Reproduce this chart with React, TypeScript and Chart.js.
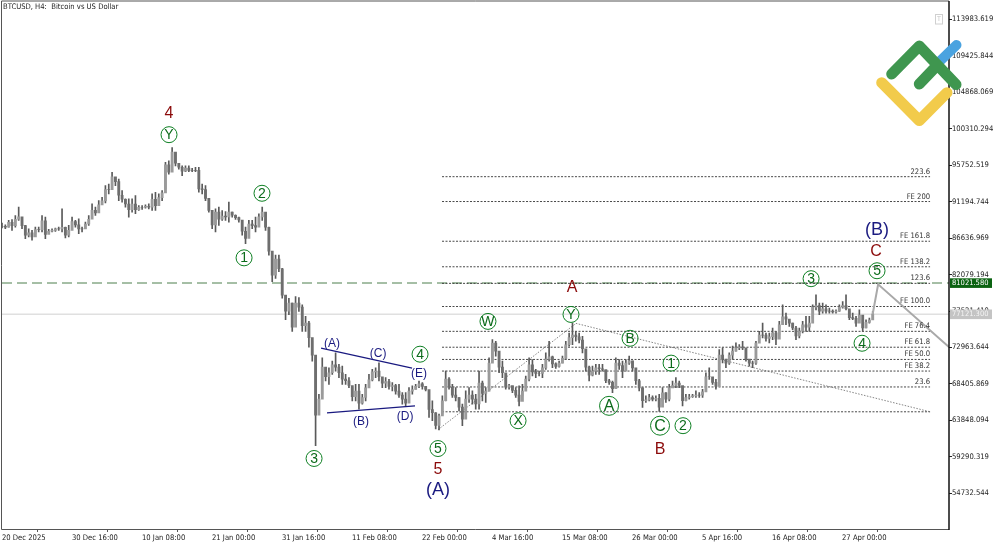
import { useEffect, useRef } from "react";
import { Chart, registerables } from "chart.js";

Chart.register(...registerables);

const BAR_STEP = 3.05;
const LAST_BAR = 865.8;

const highs = [
  88520,88310,88850,88970,89470,90510,88850,88230,87810,87610,
  88020,88020,89470,89260,87730,87810,87900,88020,90300,88020,
  88230,89260,88850,89060,88020,88640,89470,90920,90510,91330,
  91750,93200,93400,94850,94230,94020,92580,91540,91540,91540,
  91960,90710,90710,90800,90920,92160,92370,92160,92580,96100,
  96300,97960,97340,95890,95680,95680,95680,95350,95480,95480,
  93400,93200,91540,90090,90300,90510,90090,89970,91130,89890,
  89550,89260,88850,88020,88850,88850,89260,89680,90510,89060,
  88020,84500,84500,84500,82850,79330,79120,78500,79330,79200,
  78290,76840,76220,73740,71670,67110,71670,70420,70420,71250,
  72290,70840,70630,69600,69180,67940,68350,68350,67110,68350,
  69600,70220,70420,71040,69180,69180,68970,68560,68350,68350,
  67320,67320,67940,68150,68350,68770,68560,67940,66700,66280,
  64830,64630,66900,70010,69180,68350,67940,66700,65870,67530,
  67940,67530,67110,70010,68770,67940,71670,73940,73740,71870,
  71250,69180,68350,67940,67940,68150,68350,69390,71670,71460,
  70220,70010,70840,72290,73740,71870,71040,71250,71870,73740,
  74770,76010,74980,74770,74360,72290,70630,70630,70840,70840,
  70840,69600,68970,68770,71670,71460,71250,71460,71870,71250,
  70010,68970,67940,66900,67110,66900,66900,67110,67940,67320,
  68350,68770,69180,68770,67110,67110,67110,67110,67530,67320,
  67730,69800,70420,69180,68970,72700,72910,71460,72290,73120,
  73530,73320,73740,72700,71460,71250,73740,74980,76010,74770,
  74770,75390,74980,76220,78290,77260,76220,76010,75600,75390,
  76220,76840,76840,78290,79530,78500,78500,78290,77880,77670,
  77670,78290,78710,79530,77460,77260,76840,77670,76430,76430,
  76640,77460,
];

const lows = [
  87900,87810,88020,87610,88020,88850,87810,86570,86780,86370,
  87190,87400,87400,86570,87320,87400,87480,87610,87400,86660,
  86780,87810,88020,87190,87400,87810,88230,89260,89470,89890,
  90920,91040,92160,92780,93200,91330,91130,90510,89260,89890,
  89680,90090,90220,90380,90300,90090,90090,90920,91330,92780,
  94650,95270,95680,95270,94440,94940,94940,94940,94940,92370,
  92160,91330,89890,87810,87400,88230,88850,88850,88640,89260,
  88970,88640,86990,85950,87400,87810,87400,88640,88850,87610,
  84500,81190,81600,82430,79120,76430,77050,74980,76630,77460,
  74980,74980,73000,71250,60690,64630,67110,68770,68350,69600,
  70010,69180,68350,68350,67940,66280,66280,65250,65870,66280,
  67940,68770,69180,68770,67940,67940,67730,67530,67110,66700,
  65870,65660,66490,67110,67730,67940,67730,67530,64210,63800,
  62760,62640,64630,66280,67730,66700,66280,65040,63180,65040,
  66080,65870,65250,65250,66280,66080,67530,71250,71870,69800,
  69180,67730,67730,67320,66700,65660,66900,68350,68770,69390,
  69180,69390,69180,70220,71250,70420,70340,70510,71040,71460,
  73120,73320,73740,73530,72290,70010,68770,69390,69600,69600,
  70010,68560,68350,67320,68970,70220,69180,70840,70840,70010,
  68350,67530,65450,66080,66280,66280,66280,64960,66280,66080,
  66280,67940,67940,67940,65660,66280,66490,66700,66700,66700,
  66700,67730,68970,68350,67730,68770,71040,70420,70840,71460,
  72490,72700,72700,71250,70630,70420,70840,73940,74150,73740,
  73530,73940,73320,74560,76010,75810,75600,75190,73940,74150,
  74770,74980,74980,76640,77670,77050,77260,77260,77260,77260,
  77260,77460,77880,77670,76430,76430,75600,76430,74980,75390,
  76010,76430,
];

const closes = [
  88100,88000,88600,88200,89000,89300,88200,87000,87300,86800,
  87700,87700,88800,87100,87500,87600,87800,87800,88000,87000,
  87600,88700,88300,87800,87800,88400,89000,90100,89800,90800,
  91300,92700,92700,94300,93700,92000,91500,90900,90200,90900,
  90200,90500,90500,90600,90500,91500,90700,91700,92300,95800,
  94900,97400,96000,95500,95000,95400,95100,95100,95100,92800,
  92700,91600,90100,88300,89900,89000,89400,89300,89900,89500,
  89200,88900,87500,86600,88400,88200,88000,89300,89900,88000,
  85000,82000,84000,82800,79500,77500,78500,75500,78500,78000,
  75700,76000,74200,72000,64500,66500,70500,69300,69800,70800,
  70500,69800,69000,68800,68200,66800,67500,66000,66700,67900,
  68900,69900,70000,69300,68500,68700,68100,68200,67500,67000,
  66500,66000,67500,67700,68100,68400,68100,67700,65200,64800,
  63200,64400,66300,69000,68000,67000,66700,65500,64000,66500,
  67000,66500,65900,68500,67200,67500,71000,73500,72500,70500,
  69800,68000,68200,67600,67000,66200,67500,69000,70800,69900,
  69700,69700,70400,71500,71800,70900,70600,71000,71600,73300,
  74200,74500,74300,73900,72800,70500,69500,70000,70400,70300,
  70200,68800,68600,67800,71000,70700,70000,71000,71300,70400,
  68800,67900,66300,66400,66700,66500,66600,65500,67300,66500,
  67900,68200,68500,68200,66300,66700,66800,66900,67000,67000,
  67400,69300,69300,68600,68100,72000,71500,71000,72000,72500,
  72900,73000,72900,71500,71000,71000,73500,74500,74500,74100,
  74300,74800,74000,75800,76800,76500,76000,75400,74400,75000,
  75800,75500,76000,78000,78200,77500,77800,77500,77500,77400,
  77500,78000,78200,77800,76700,76600,76000,77000,75400,76100,
  76400,77120,
];

const priceTicks = [
  113983.619, 109425.844, 104868.069, 100310.294, 95752.519, 91194.744, 86636.969,
  82079.194, 77521.419, 72963.644, 68405.869, 63848.094, 59290.319, 54732.544,
];

const dateLabels = [
  "20 Dec 2025", "30 Dec 16:00", "10 Jan 08:00", "21 Jan 00:00", "31 Jan 16:00", "11 Feb 08:00",
  "22 Feb 00:00", "4 Mar 16:00", "15 Mar 08:00", "26 Mar 00:00", "5 Apr 16:00", "16 Apr 08:00", "27 Apr 00:00",
];
const BARS_PER_LABEL = 64;

// Fibonacci levels, between bars 402 and 848
const fibNames = ["223.6", "FE 200", "FE 161.8", "FE 138.2", "123.6", "FE 100.0", "FE 76.4", "FE 61.8", "FE 50.0", "FE 38.2", "23.6", ""];
const fibPrices = [94320, 91214, 86245, 83053, 80978, 78084, 74978, 72991, 71463, 70010, 68022, 64917];
const FIB_START = 402.3;
const FIB_END = 848.5;

const BID = 81021.58;
const ASK = 77121.3;

const trendDots = [{ x: 398.6, y: 62680 }, { x: 524.8, y: 75972 }, { x: 848.5, y: 64917 }];
const triangleTop = [{ x: 291.7, y: 72868 }, { x: 374.9, y: 70384 }];
const triangleBottom = [{ x: 297.1, y: 64792 }, { x: 377.6, y: 65661 }];
const forecast = [{ x: 796, y: 77121 }, { x: 801, y: 80856 }, { x: 866, y: 72991 }];

// wave labels: text, bar, price
const circledWaves: [string, number, number][] = [
  ["Y", 152.7, 99574], ["2", 237.7, 92245], ["1", 221.3, 84171], ["3", 285.3, 59078],
  ["4", 382.2, 72121], ["5", 398.6, 60320], ["W", 444.3, 76221], ["X", 471.8, 63799],
  ["Y", 520.2, 77090], ["A", 555, 65661], ["B", 574.2, 74109], ["C", 601.6, 63178],
  ["1", 611.7, 71002], ["2", 622.6, 63178], ["3", 739.7, 81562], ["4", 786.3, 73487], ["5", 800, 82556],
];
const redWaves: [string, number, number][] = [
  ["4", 152.7, 102183], ["5", 398.6, 57713], ["A", 521.1, 80445], ["B", 601.6, 60196], ["C", 799.1, 84916],
];
const bigNavyWaves: [string, number, number][] = [
  ["(A)", 398.6, 55104], ["(B)", 800, 87649],
];
const smallNavyWaves: [string, number, number][] = [
  ["(A)", 301.7, 73488], ["(B)", 328.2, 63674], ["(C)", 343.8, 72121], ["(D)", 368.5, 64295], ["(E)", 381.3, 69636],
];

const AXIS_FONT = '"DejaVu Sans Condensed", "Liberation Sans", sans-serif';

const overlay = {
  id: "overlay",
  afterDraw(chart: any) {
    const { ctx, chartArea: a } = chart;
    const xs = chart.scales.x;
    const ys = chart.scales.y;
    ctx.save();

    // frame
    ctx.strokeStyle = "#555";
    ctx.lineWidth = 1;
    ctx.beginPath();
    ctx.moveTo(1.5, a.bottom + 0.5);
    ctx.lineTo(1.5, 1);
    ctx.lineTo(a.right, 1);
    ctx.moveTo(1.5, a.bottom + 0.5);
    ctx.lineTo(a.right, a.bottom + 0.5);
    ctx.stroke();
    ctx.strokeStyle = "#111";
    ctx.lineWidth = 1.5;
    ctx.beginPath();
    ctx.moveTo(a.right, 1);
    ctx.lineTo(a.right, a.bottom + 1);
    ctx.stroke();

    ctx.textBaseline = "middle";

    // title
    ctx.fillStyle = "#222";
    ctx.font = "7.6px " + AXIS_FONT;
    ctx.textAlign = "left";
    ctx.fillText("BTCUSD, H4:  Bitcoin vs US Dollar", 3, 7);

    // fib captions
    ctx.textAlign = "right";
    ctx.fillStyle = "#333";
    fibNames.forEach((name, i) => {
      ctx.fillText(name, xs.getPixelForValue(FIB_END), ys.getPixelForValue(fibPrices[i]) - 5);
    });

    // price tags on the axis
    ctx.textAlign = "left";
    ctx.font = "7.5px " + AXIS_FONT;
    ctx.fillStyle = "#0b6311";
    ctx.fillRect(950, ys.getPixelForValue(BID) - 4.7, 42, 9.6);
    ctx.fillStyle = "#fff";
    ctx.fillText(BID.toFixed(3), 952, ys.getPixelForValue(BID) + 0.3);
    ctx.fillStyle = "#c4c4c4";
    ctx.fillRect(950, ys.getPixelForValue(ASK) - 4.7, 42, 9.6);
    ctx.fillStyle = "#f4f4f4";
    ctx.fillText(ASK.toFixed(3), 952, ys.getPixelForValue(ASK) + 0.3);

    // wave labels
    ctx.textAlign = "center";
    circledWaves.forEach(([t, bar, price]) => {
      const x = xs.getPixelForValue(bar);
      const y = ys.getPixelForValue(price);
      const big = t === "A" || t === "C";
      ctx.strokeStyle = "#0d7f22";
      ctx.lineWidth = 1;
      ctx.beginPath();
      ctx.arc(x, y, big ? 9.5 : 8, 0, Math.PI * 2);
      ctx.stroke();
      ctx.fillStyle = "#0c6b1b";
      ctx.font = (big ? 16 : 14) + 'px "Liberation Sans", sans-serif';
      ctx.fillText(t, x, y + 0.7);
    });
    ctx.fillStyle = "#8b0a0a";
    ctx.font = '16px "Liberation Sans", sans-serif';
    redWaves.forEach(([t, bar, price]) => {
      ctx.fillText(t, xs.getPixelForValue(bar), ys.getPixelForValue(price));
    });
    ctx.fillStyle = "#1a1a80";
    ctx.font = '18px "Liberation Sans", sans-serif';
    bigNavyWaves.forEach(([t, bar, price]) => {
      ctx.fillText(t, xs.getPixelForValue(bar), ys.getPixelForValue(price));
    });
    ctx.font = '12px "Liberation Sans", sans-serif';
    smallNavyWaves.forEach(([t, bar, price]) => {
      ctx.fillText(t, xs.getPixelForValue(bar), ys.getPixelForValue(price));
    });

    // T button
    ctx.strokeStyle = "#d0d0d0";
    ctx.lineWidth = 1;
    ctx.strokeRect(935.5, 14.5, 7, 9.5);
    ctx.fillStyle = "#c8c8c8";
    ctx.font = "7px " + AXIS_FONT;
    ctx.fillText("T", 939, 19.5);

    // logo
    ctx.lineCap = "round";
    ctx.lineJoin = "round";
    ctx.lineWidth = 10;
    ctx.strokeStyle = "#4aa3e0";
    ctx.beginPath();
    ctx.moveTo(938, 63);
    ctx.lineTo(956.5, 45);
    ctx.stroke();
    ctx.lineWidth = 11;
    ctx.strokeStyle = "#f2cb4b";
    ctx.beginPath();
    ctx.moveTo(881.7, 82.7);
    ctx.lineTo(919.3, 120.5);
    ctx.lineTo(947, 92.7);
    ctx.stroke();
    ctx.strokeStyle = "#3f964f";
    ctx.beginPath();
    ctx.moveTo(891.7, 74);
    ctx.lineTo(919.3, 46);
    ctx.lineTo(956, 84.5);
    ctx.moveTo(919.3, 84);
    ctx.lineTo(937, 65.5);
    ctx.stroke();

    ctx.restore();
  },
};

export default function App() {
  const canvasRef = useRef<HTMLCanvasElement>(null);

  useEffect(() => {
    if (!canvasRef.current) return;
    document.body.style.margin = "0";

    const wicks = highs.map((h, i) => ({ x: i * BAR_STEP, y: [lows[i], h] }));
    const bodies = closes.map((c, i) => ({ x: i * BAR_STEP, y: [i === 0 ? c : closes[i - 1], c] }));
    const bodyColors = closes.map((c, i) => (i > 0 && c > closes[i - 1] ? "#9a9a9a" : "#6e6e6e"));

    const line = (data: any[], color: string, width: number, dash: number[], order: number) => ({
      type: "line" as const,
      data,
      borderColor: color,
      borderWidth: width,
      borderDash: dash,
      pointRadius: 0,
      tension: 0,
      order,
    });

    const chart = new Chart(canvasRef.current, {
      type: "bar",
      data: {
        datasets: [
          line([{ x: 0, y: ASK }, { x: LAST_BAR, y: ASK }], "#e0e0e0", 1.5, [], 9),
          line([{ x: 0, y: BID }, { x: LAST_BAR, y: BID }], "#4d7f4d", 1, [10, 5], 8),
          ...fibPrices.map((p) =>
            line([{ x: FIB_START, y: p }, { x: FIB_END, y: p }], "#333", 0.9, [2, 1.5], 7)
          ),
          line(trendDots, "#666", 0.8, [1.5, 1.5], 6),
          line(triangleTop, "#1a1a80", 1.2, [], 3),
          line(triangleBottom, "#1a1a80", 1.2, [], 3),
          {
            type: "bar" as const,
            data: wicks as any,
            backgroundColor: "#5a5a5a",
            barThickness: 1,
            grouped: false,
            order: 5,
          },
          {
            type: "bar" as const,
            data: bodies as any,
            backgroundColor: bodyColors,
            barThickness: 2.2,
            grouped: false,
            order: 4,
          },
          line(forecast, "#a9a9a9", 2, [], 2),
        ],
      },
      plugins: [overlay],
      options: {
        responsive: false,
        devicePixelRatio: 1,
        animation: false,
        layout: { autoPadding: false, padding: { left: 2, top: 1, right: 0, bottom: 0 } },
        plugins: { legend: { display: false }, tooltip: { enabled: false } },
        events: [],
        scales: {
          x: {
            type: "linear",
            offset: false,
            min: 0,
            max: LAST_BAR,
            border: { display: false },
            grid: { drawOnChartArea: false, drawTicks: true, tickLength: 3, color: "#555" },
            afterBuildTicks: (axis: any) => {
              axis.ticks = dateLabels.map((_, i) => ({ value: i * BARS_PER_LABEL }));
            },
            afterFit: (axis: any) => {
              axis.height = 16;
            },
            ticks: {
              autoSkip: false,
              maxRotation: 0,
              align: "start",
              padding: 1,
              color: "#222",
              font: { family: AXIS_FONT, size: 7.6 },
              callback: (v: any) => dateLabels[Math.round(v / BARS_PER_LABEL)],
            },
          },
          y: {
            type: "linear",
            position: "right",
            min: 50257,
            max: 115847,
            border: { display: false },
            grid: { drawOnChartArea: false, drawTicks: true, tickLength: 3, color: "#222" },
            afterBuildTicks: (axis: any) => {
              axis.ticks = priceTicks.map((value) => ({ value }));
            },
            afterFit: (axis: any) => {
              axis.width = 51;
            },
            ticks: {
              autoSkip: false,
              padding: 0,
              color: "#222",
              font: { family: AXIS_FONT, size: 7.6 },
              callback: (v: any) => Number(v).toFixed(3),
            },
          },
        },
      },
    } as any);

    return () => {
      chart.destroy();
    };
  }, []);

  return <canvas ref={canvasRef} width={1000} height={545} style={{ display: "block" }} />;
}
